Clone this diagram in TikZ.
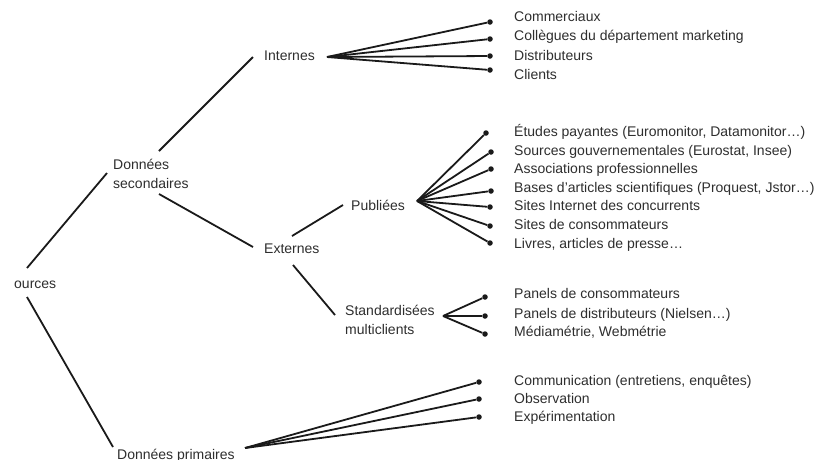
\documentclass[tikz,border=0pt]{standalone}
\usepackage{fontspec}
\setmainfont{Liberation Sans}
\definecolor{txt}{HTML}{2E2E2E}
\definecolor{ln}{HTML}{1A1A1A}
\begin{document}
\begin{tikzpicture}[x=1pt,y=-1pt,
  lbl/.style={anchor=west, inner sep=0pt, text height=10pt, text depth=3pt,
    font=\fontsize{14}{19.5}\selectfont, text=txt},
  lbltwo/.style={anchor=west, inner sep=0pt, align=left,
    font=\fontsize{14}{19.5}\selectfont, text=txt},
  link/.style={draw=ln, line width=1.8pt},
  dot/.style={circle, fill=ln, inner sep=0pt, minimum size=5.5pt}]
\useasboundingbox (0,0) rectangle (829,459);
\fill[white] (0,0) rectangle (829,459);

% tree labels
\node[lbl] (src) at (14,285) {ources};
\node[lbltwo] (ds) at (113,174) {Données\\secondaires};
\node[lbl] (int) at (264,57) {Internes};
\node[lbl] (ext) at (264,250) {Externes};
\node[lbl] (pub) at (351,207) {Publiées};
\node[lbltwo] (std) at (345,320) {Standardisées\\multiclients};
\node[lbl] (dp) at (117,456) {Données primaires};

% branch end points next to the labels
\coordinate (src-up) at (27,268);   \coordinate (ds-in) at (107,173);
\coordinate (src-dn) at (27,297);   \coordinate (dp-in) at (113,447);
\coordinate (ds-up) at (159,151);   \coordinate (int-in) at (253,57);
\coordinate (ds-dn) at (159,194);   \coordinate (ext-in) at (253,247);
\coordinate (ext-up) at (292,236);  \coordinate (pub-in) at (343,205);
\coordinate (ext-dn) at (293,265);  \coordinate (std-in) at (335,315);

% fan origins
\coordinate (int-o) at (327,57);
\coordinate (pub-o) at (417,201);
\coordinate (std-o) at (443,316);
\coordinate (dp-o) at (245,448);

\draw[link] (src-up) -- (ds-in);
\draw[link] (src-dn) -- (dp-in);
\draw[link] (ds-up) -- (int-in);
\draw[link] (ds-dn) -- (ext-in);
\draw[link] (ext-up) -- (pub-in);
\draw[link] (ext-dn) -- (std-in);

% leaves: internes
\foreach \n/\dy/\ty/\t in {1/22/18/Commerciaux,
    2/39/37/Collègues du département marketing,
    3/56/57/Distributeurs,
    4/70/76/Clients}{
  \node[dot] (i\n) at (490,\dy) {};
  \node[lbl] (it\n) at (514,\ty) {\t};
  \draw[link] (int-o) -- (i\n);
}

% leaves: publiées
\foreach \n/\dx/\dy/\ty/\t in {1/486/133/133/Études payantes (Euromonitor{,} Datamonitor…),
    2/491/152/152/Sources gouvernementales (Eurostat{,} Insee),
    3/491/169/170/Associations professionnelles,
    4/491/191/189/Bases d’articles scientifiques (Proquest{,} Jstor…),
    5/490/207/207/Sites Internet des concurrents,
    6/490/226/226/Sites de consommateurs,
    7/490/243/245/{Livres, articles de presse…}}{
  \node[dot] (p\n) at (\dx,\dy) {};
  \node[lbl] (pt\n) at (514,\ty) {\t};
  \draw[link] (pub-o) -- (p\n);
}

% leaves: standardisées
\foreach \n/\dy/\ty/\t in {1/297/295/Panels de consommateurs,
    2/316/315/Panels de distributeurs (Nielsen…),
    3/334/333/{Médiamétrie, Webmétrie}}{
  \node[dot] (s\n) at (485,\dy) {};
  \node[lbl] (st\n) at (514,\ty) {\t};
  \draw[link] (std-o) -- (s\n);
}

% leaves: données primaires
\foreach \n/\dy/\ty/\t in {1/382/382/{Communication (entretiens, enquêtes)},
    2/399/400/Observation,
    3/417/418/Expérimentation}{
  \node[dot] (q\n) at (479,\dy) {};
  \node[lbl] (qt\n) at (514,\ty) {\t};
  \draw[link] (dp-o) -- (q\n);
}
\end{tikzpicture}
\end{document}
